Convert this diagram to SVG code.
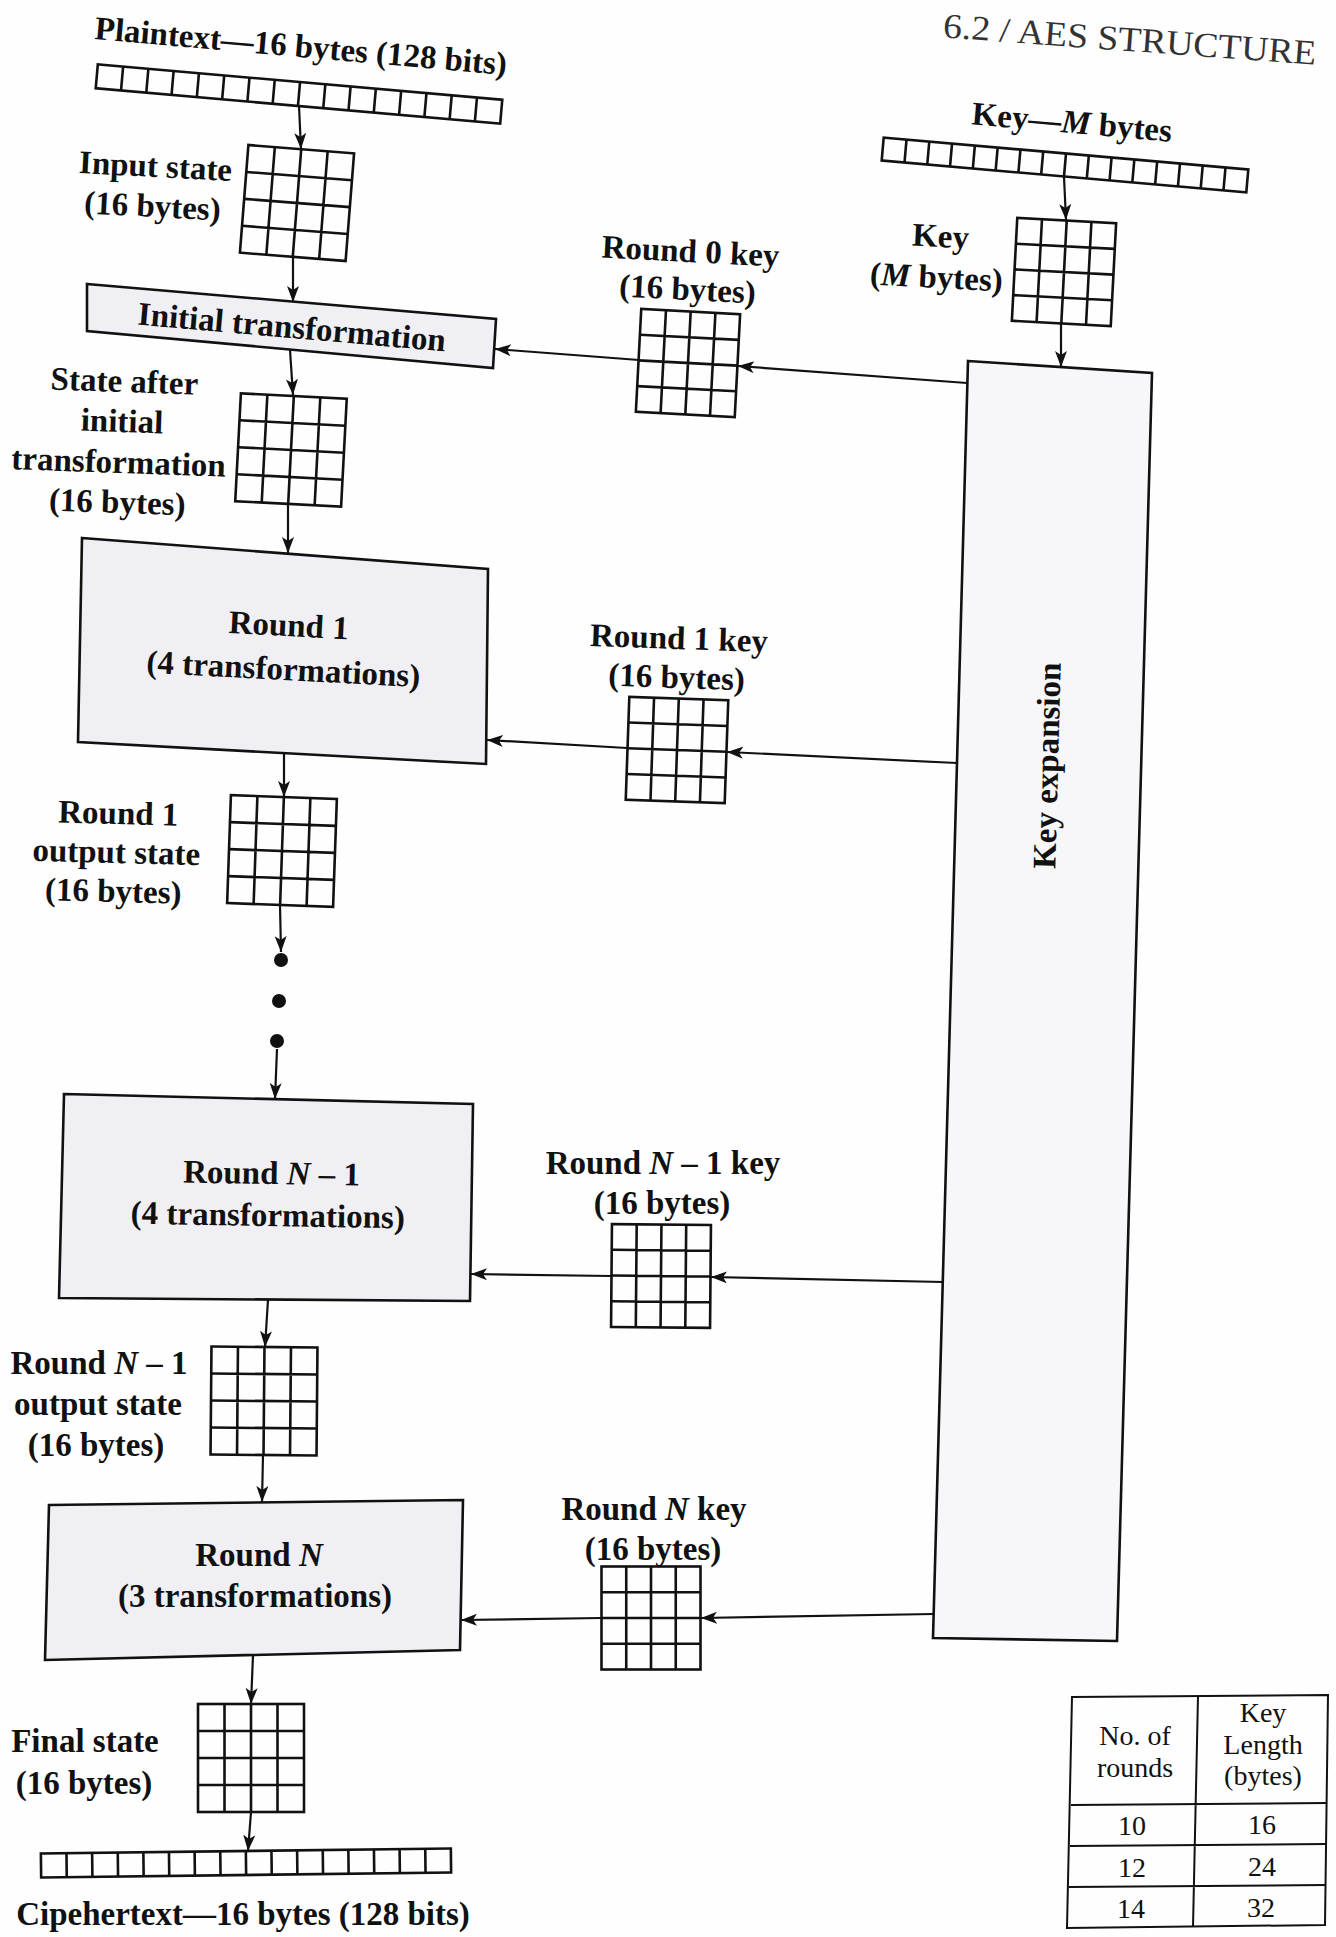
<svg xmlns="http://www.w3.org/2000/svg" xmlns:xlink="http://www.w3.org/1999/xlink" width="1336" height="1937" viewBox="0 0 1336 1937">
<style>
.lb{font-family:"Liberation Serif","Times New Roman",serif;font-weight:bold;font-size:33px;text-anchor:middle;fill:#111}
.tb{font-family:"Liberation Serif","Times New Roman",serif;font-size:28px;text-anchor:middle;fill:#111}
.hd{font-family:"Liberation Serif","Times New Roman",serif;font-size:35px;fill:#333}
.box{stroke:#111;stroke-width:2.6;stroke-linejoin:miter}
.rnd{fill:#f0f0f4}
.kex{fill:#f7f7fa}
.gr{fill:none;stroke:#111;stroke-width:2.6}
.cn{fill:none;stroke:#111;stroke-width:2.2}
.tl{fill:none;stroke:#111;stroke-width:2}
</style>
<defs>
<marker id="ah" markerUnits="userSpaceOnUse" markerWidth="18" markerHeight="14" refX="16" refY="6" orient="auto">
<path d="M0,0 L16,6 L0,12 L4,6 Z" fill="#111"/>
</marker>
<g id="sgrid">
<rect x="0" y="0" width="106" height="108" class="gr"/>
<path d="M26.5,0V108M53,0V108M79.5,0V108M0,27H106M0,54H106M0,81H106" class="gr"/>
</g>
<g id="kgrid">
<rect x="0" y="0" width="99" height="103" class="gr"/>
<path d="M24.75,0V103M49.5,0V103M74.25,0V103M0,25.75H99M0,51.5H99M0,77.25H99" class="gr"/>
</g>
</defs>
<rect x="0" y="0" width="1336" height="1937" fill="#fefefe"/>

<text class="hd" x="1129" y="51" text-anchor="middle" textLength="374" lengthAdjust="spacingAndGlyphs" transform="rotate(4.2 1129 51)">6.2 / AES STRUCTURE</text>

<g id="plaintext">
<text class="lb" x="300" y="57" transform="rotate(5 300 57)">Plaintext—16 bytes (128 bits)</text>
<g transform="rotate(5 299 94) translate(96 82)">
<rect x="0" y="0" width="406" height="24" class="gr"/>
<path d="M25.4,0V24M50.75,0V24M76.1,0V24M101.5,0V24M126.9,0V24M152.25,0V24M177.6,0V24M203,0V24M228.4,0V24M253.75,0V24M279.1,0V24M304.5,0V24M329.9,0V24M355.25,0V24M380.6,0V24" class="gr"/>
</g>
</g>

<g id="input-state">
<use xlink:href="#sgrid" href="#sgrid" transform="rotate(4.5 297 203) translate(244 149)"/>
<g transform="rotate(3 154 197)">
<text class="lb" x="154" y="177">Input state</text>
<text class="lb" x="153" y="217">(16 bytes)</text>
</g>
</g>

<g id="initial-transformation">
<polygon class="box rnd" points="87,284 496,319 493,368 87,331"/>
<text class="lb" x="291" y="338" transform="rotate(5 291 338)">Initial transformation</text>
</g>

<g id="round0-key">
<use xlink:href="#kgrid" href="#kgrid" transform="rotate(3 688 363) translate(638.5 311.5)"/>
<g transform="rotate(3 688 281)">
<text class="lb" x="689" y="262">Round 0 key</text>
<text class="lb" x="688" y="300">(16 bytes)</text>
</g>
</g>

<g id="key-input">
<text class="lb" x="1071" y="133" transform="rotate(5 1071 133)">Key—<tspan font-style="italic">M</tspan> bytes</text>
<g transform="rotate(5 1065 165) translate(882 153.5)">
<rect x="0" y="0" width="366" height="23" class="gr"/>
<path d="M22.9,0V23M45.75,0V23M68.6,0V23M91.5,0V23M114.4,0V23M137.25,0V23M160.1,0V23M183,0V23M205.9,0V23M228.75,0V23M251.6,0V23M274.5,0V23M297.4,0V23M320.25,0V23M343.1,0V23" class="gr"/>
</g>
</g>

<g id="key-state">
<use xlink:href="#kgrid" href="#kgrid" transform="rotate(3 1064 272) translate(1014.5 220.5)"/>
<g transform="rotate(3 938 267)">
<text class="lb" x="939" y="247">Key</text>
<text class="lb" x="937" y="288">(<tspan font-style="italic">M</tspan> bytes)</text>
</g>
</g>

<g id="key-expansion">
<polygon class="box kex" points="968,361 1152,373 1117,1641 933,1638"/>
<text class="lb" x="0" y="0" transform="translate(1058 766) rotate(-88.5)">Key expansion</text>
</g>

<g id="state-after-initial">
<use xlink:href="#sgrid" href="#sgrid" transform="rotate(3 291 450) translate(238 396)"/>
<g transform="rotate(2 120 452)">
<text class="lb" x="122" y="392">State after</text>
<text class="lb" x="121" y="432">initial</text>
<text class="lb" x="119" y="473">transformation</text>
<text class="lb" x="119" y="513">(16 bytes)</text>
</g>
</g>

<g id="round1">
<polygon class="box rnd" points="82,538 488,569 486,764 78,742"/>
<g transform="rotate(3 285 658)">
<text class="lb" x="287" y="636">Round 1</text>
<text class="lb" x="284" y="680">(4 transformations)</text>
</g>
</g>

<g id="round1-key">
<use xlink:href="#kgrid" href="#kgrid" transform="rotate(2 677 750) translate(627.5 698.5)"/>
<g transform="rotate(2 677 668)">
<text class="lb" x="678" y="649">Round 1 key</text>
<text class="lb" x="677" y="688">(16 bytes)</text>
</g>
</g>

<g id="round1-output">
<use xlink:href="#sgrid" href="#sgrid" transform="rotate(2 282 851) translate(229 797)"/>
<g transform="rotate(1.5 116 863)">
<text class="lb" x="117" y="824">Round 1</text>
<text class="lb" x="116" y="863">output state</text>
<text class="lb" x="114" y="902">(16 bytes)</text>
</g>
</g>

<g id="ellipsis">
<circle cx="281" cy="960" r="7" fill="#111"/>
<circle cx="279" cy="1001" r="7" fill="#111"/>
<circle cx="277" cy="1041" r="7" fill="#111"/>
</g>

<g id="roundN-1">
<polygon class="box rnd" points="64,1094 473,1104 470,1301 59,1298"/>
<g transform="rotate(1 270 1205)">
<text class="lb" x="271" y="1184">Round <tspan font-style="italic">N</tspan> – 1</text>
<text class="lb" x="268" y="1226">(4 transformations)</text>
</g>
</g>

<g id="roundN-1-key">
<use xlink:href="#kgrid" href="#kgrid" transform="rotate(0.5 661 1276) translate(611.5 1224.5)"/>
<text class="lb" x="663" y="1174">Round <tspan font-style="italic">N</tspan> – 1 key</text>
<text class="lb" x="662" y="1214">(16 bytes)</text>
</g>

<g id="roundN-1-output">
<use xlink:href="#sgrid" href="#sgrid" transform="rotate(0.5 264 1401) translate(211 1347)"/>
<text class="lb" x="99" y="1374">Round <tspan font-style="italic">N</tspan> – 1</text>
<text class="lb" x="98" y="1415">output state</text>
<text class="lb" x="96" y="1456">(16 bytes)</text>
</g>

<g id="roundN">
<polygon class="box rnd" points="49,1505 463,1500 460,1650 45,1660"/>
<text class="lb" x="259" y="1566">Round <tspan font-style="italic">N</tspan></text>
<text class="lb" x="255" y="1607">(3 transformations)</text>
</g>

<g id="roundN-key">
<use xlink:href="#kgrid" href="#kgrid" transform="translate(601.5 1566.5)"/>
<text class="lb" x="654" y="1520">Round <tspan font-style="italic">N</tspan> key</text>
<text class="lb" x="653" y="1560">(16 bytes)</text>
</g>

<g id="final-state">
<use xlink:href="#sgrid" href="#sgrid" transform="translate(198 1704)"/>
<text class="lb" x="85" y="1752">Final state</text>
<text class="lb" x="84" y="1794">(16 bytes)</text>
</g>

<g id="ciphertext">
<g transform="rotate(-0.7 246 1863) translate(41 1851)">
<rect x="0" y="0" width="410" height="24" class="gr"/>
<path d="M25.6,0V24M51.25,0V24M76.9,0V24M102.5,0V24M128.1,0V24M153.75,0V24M179.4,0V24M205,0V24M230.6,0V24M256.25,0V24M281.9,0V24M307.5,0V24M333.1,0V24M358.75,0V24M384.4,0V24" class="gr"/>
</g>
<text class="lb" x="243" y="1925">Cipehertext—16 bytes (128 bits)</text>
</g>

<g id="rounds-table">
<polygon class="tl" points="1072,1697 1328,1695 1325,1925 1067,1928"/>
<path class="tl" d="M1198,1696L1193,1927M1071,1805L1327,1803M1070,1846L1326,1844M1069,1887L1326,1885"/>
<text class="tb" x="1135" y="1745">No. of</text>
<text class="tb" x="1135" y="1777">rounds</text>
<text class="tb" x="1263" y="1722">Key</text>
<text class="tb" x="1263" y="1754">Length</text>
<text class="tb" x="1263" y="1785">(bytes)</text>
<text class="tb" x="1132" y="1835">10</text>
<text class="tb" x="1262" y="1834">16</text>
<text class="tb" x="1132" y="1877">12</text>
<text class="tb" x="1262" y="1876">24</text>
<text class="tb" x="1131" y="1918">14</text>
<text class="tb" x="1261" y="1917">32</text>
</g>

<g id="connectors">
<path class="cn" marker-end="url(#ah)" d="M299,106L301,149"/>
<path class="cn" marker-end="url(#ah)" d="M293,257L293,302"/>
<path class="cn" marker-end="url(#ah)" d="M290,350L293,395"/>
<path class="cn" marker-end="url(#ah)" d="M288,505L288,553"/>
<path class="cn" marker-end="url(#ah)" d="M284,753L284,797"/>
<path class="cn" marker-end="url(#ah)" d="M280,905L281,952"/>
<path class="cn" marker-end="url(#ah)" d="M277,1049L275,1099"/>
<path class="cn" marker-end="url(#ah)" d="M268,1300L265,1347"/>
<path class="cn" marker-end="url(#ah)" d="M263,1455L262,1502"/>
<path class="cn" marker-end="url(#ah)" d="M253,1655L251,1704"/>
<path class="cn" marker-end="url(#ah)" d="M251,1812L248,1851"/>
<path class="cn" marker-end="url(#ah)" d="M1064,177L1066,220"/>
<path class="cn" marker-end="url(#ah)" d="M1061,324L1061,367"/>
<path class="cn" marker-end="url(#ah)" d="M967,383L738,366"/>
<path class="cn" marker-end="url(#ah)" d="M639,360L495,349"/>
<path class="cn" marker-end="url(#ah)" d="M957,763L727,752"/>
<path class="cn" marker-end="url(#ah)" d="M627,748L487,740"/>
<path class="cn" marker-end="url(#ah)" d="M943,1282L711,1277"/>
<path class="cn" marker-end="url(#ah)" d="M611,1276L471,1274"/>
<path class="cn" marker-end="url(#ah)" d="M934,1614L701,1618"/>
<path class="cn" marker-end="url(#ah)" d="M601,1618L461,1620"/>
</g>
</svg>
